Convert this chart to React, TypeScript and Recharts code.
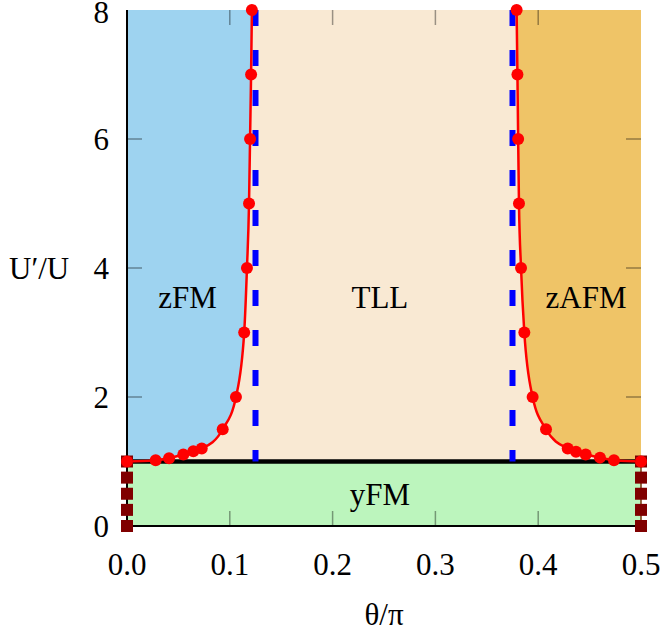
import React from "react";
import { ComposedChart, Area, Line, XAxis, YAxis, ReferenceDot } from "recharts";

const xTicks = [0, 0.1, 0.2, 0.3, 0.4, 0.5];
const yTicks = [0, 2, 4, 6, 8];

// zFM / TLL boundary (red circles)
const leftTheta = [0, 0.0279, 0.0409, 0.0548, 0.0645, 0.0727, 0.0931, 0.106, 0.114, 0.1167, 0.1187, 0.1197, 0.1207, 0.1215];
const leftU = [1, 1.02, 1.05, 1.11, 1.16, 1.2, 1.5, 2, 3, 4, 5, 6, 7, 8];

// TLL / zAFM boundary
const rightTheta = [0.379, 0.3798, 0.3805, 0.3813, 0.3833, 0.3865, 0.3946, 0.4076, 0.4287, 0.4368, 0.4462, 0.4601, 0.4737, 0.5];
const rightU = [8, 7, 6, 5, 4, 3, 2, 1.5, 1.2, 1.15, 1.11, 1.06, 1.02, 1];

// yFM edges (dark red squares)
const yfmTheta = [0, 0.5];
const yfmU = [0, 0.25, 0.5, 0.75, 1];

const transitionU = 1;
const tllEdges = [0.125, 0.375];
const thetaMax = 0.5;
const uMax = 8;

const regionNames = ["zFM", "TLL", "zAFM", "yFM"];
const regionTheta = [0.059, 0.246, 0.4465, 0.246];
const regionU = [3.55, 3.55, 3.55, 0.5];

const PLOT = { left: 127, right: 641, top: 10, bottom: 526 };
const TICK_LEN = 15;
const FONT = "'Liberation Serif', 'Times New Roman', serif";
const FS = 31;
const TICK_STROKE = "rgba(0,0,0,0.38)";

const leftCurve = leftTheta.map((x, i) => ({ x, y: leftU[i] }));
const rightCurve = rightTheta.map((x, i) => ({ x, y: rightU[i] }));
const zfmArea = leftTheta.map((x, i) => ({ x, range: [leftU[i], uMax] }));
const zafmArea = rightTheta.map((x, i) => ({ x, range: [rightU[i], uMax] }));
const tllArea = [0, thetaMax].map((x) => ({ x, range: [transitionU, uMax] }));
const yfmArea = [0, thetaMax].map((x) => ({ x, range: [0, transitionU] }));
const blackLine = [0, thetaMax].map((x) => ({ x, y: transitionU }));

function ThetaTick(props: any) {
  const { x, y, payload } = props;
  const v = Number(payload.value);
  const edge = v === 0 || v === thetaMax;
  return (
    <g>
      {!edge && (
        <>
          <line x1={x} x2={x} y1={PLOT.bottom} y2={PLOT.bottom - TICK_LEN} stroke={TICK_STROKE} strokeWidth={1.5} />
          <line x1={x} x2={x} y1={PLOT.top} y2={PLOT.top + TICK_LEN} stroke={TICK_STROKE} strokeWidth={1.5} />
        </>
      )}
      <text x={x} y={y} dy={49} textAnchor="middle" fill="#000" fontSize={FS} fontFamily={FONT}>
        {v.toFixed(1)}
      </text>
    </g>
  );
}

function UTick(props: any) {
  const { y, payload } = props;
  const v = Number(payload.value);
  const edge = v === 0 || v === uMax;
  // keep the top label inside the page
  const dy = v === uMax ? "0.42em" : "0.34em";
  return (
    <g>
      {!edge && (
        <>
          <line x1={PLOT.left} x2={PLOT.left + TICK_LEN} y1={y} y2={y} stroke={TICK_STROKE} strokeWidth={1.5} />
          <line x1={PLOT.right} x2={PLOT.right - TICK_LEN} y1={y} y2={y} stroke={TICK_STROKE} strokeWidth={1.5} />
        </>
      )}
      <text x={109} y={y} dy={dy} textAnchor="end" fill="#000" fontSize={FS} fontFamily={FONT}>
        {v}
      </text>
    </g>
  );
}

const squareDot = (p: any) => (
  <rect key={`sq-${p.index}`} x={p.cx - 6} y={p.cy - 6} width={12} height={12} fill="#800000" />
);

export default function App() {
  return (
    <div style={{ width: 664, height: 640 }}>
      <style>{"body{margin:0}"}</style>
      <ComposedChart
        width={664}
        height={640}
        margin={{ top: 10, right: 23, left: 0, bottom: 0 }}
        style={{ fontFamily: FONT }}
      >
        <XAxis
          dataKey="x"
          type="number"
          domain={[0, thetaMax]}
          ticks={xTicks}
          height={114}
          tickSize={0}
          tickMargin={0}
          tick={ThetaTick}
          axisLine={{ stroke: "#000", strokeWidth: 2 }}
          label={{ value: "θ/π", position: "insideBottom", offset: 15, fill: "#000", fontSize: FS, fontFamily: FONT }}
        />
        <XAxis
          xAxisId="top"
          orientation="top"
          type="number"
          domain={[0, thetaMax]}
          height={0}
          tick={false}
          tickLine={false}
          axisLine={{ stroke: "#000", strokeWidth: 1.5 }}
        />
        <YAxis
          type="number"
          domain={[0, uMax]}
          ticks={yTicks}
          width={127}
          tickSize={0}
          tickMargin={0}
          tick={UTick}
          axisLine={{ stroke: "#000", strokeWidth: 2 }}
          label={{ value: "U′/U", position: "insideLeft", offset: 9, fill: "#000", fontSize: FS, fontFamily: FONT }}
        />
        <YAxis
          yAxisId="right"
          orientation="right"
          type="number"
          domain={[0, uMax]}
          width={0}
          tick={false}
          tickLine={false}
          axisLine={{ stroke: "#000", strokeWidth: 1.5 }}
        />

        <Area data={tllArea} dataKey="range" type="linear" stroke="none" fill="#f9e9d3" fillOpacity={1} isAnimationActive={false} dot={false} activeDot={false} />
        <Area data={zfmArea} dataKey="range" type="monotone" stroke="none" fill="#9ed3f0" fillOpacity={1} isAnimationActive={false} dot={false} activeDot={false} />
        <Area data={zafmArea} dataKey="range" type="monotone" stroke="none" fill="#efc467" fillOpacity={1} isAnimationActive={false} dot={false} activeDot={false} />
        <Area data={yfmArea} dataKey="range" type="linear" stroke="none" fill="#bcf5bd" fillOpacity={1} isAnimationActive={false} dot={false} activeDot={false} />

        <Line data={blackLine} dataKey="y" type="linear" stroke="#000" strokeWidth={4.5} dot={false} activeDot={false} isAnimationActive={false} />
        {tllEdges.map((t) => (
          <Line
            key={`edge-${t}`}
            data={[{ x: t, y: uMax }, { x: t, y: transitionU }]}
            dataKey="y"
            type="linear"
            stroke="#0000ff"
            strokeWidth={6}
            strokeDasharray="16 24"
            dot={false}
            activeDot={false}
            isAnimationActive={false}
          />
        ))}
        {yfmTheta.map((t) => (
          <Line
            key={`yfm-${t}`}
            data={yfmU.map((u) => ({ x: t, y: u }))}
            dataKey="y"
            type="linear"
            stroke="#7a3a10"
            strokeWidth={1.5}
            dot={squareDot}
            activeDot={false}
            isAnimationActive={false}
          />
        ))}
        <Line data={leftCurve} dataKey="y" type="monotone" stroke="#ff0000" strokeWidth={2.5} dot={{ r: 6, fill: "#ff0000", stroke: "none" }} activeDot={false} isAnimationActive={false} />
        <Line data={rightCurve} dataKey="y" type="monotone" stroke="#ff0000" strokeWidth={2.5} dot={{ r: 6, fill: "#ff0000", stroke: "none" }} activeDot={false} isAnimationActive={false} />

        {regionNames.map((name, i) => (
          <ReferenceDot
            key={name}
            x={regionTheta[i]}
            y={regionU[i]}
            r={0}
            fill="none"
            stroke="none"
            label={{ value: name, position: "center", fill: "#000", fontSize: FS, fontFamily: FONT }}
          />
        ))}
      </ComposedChart>
    </div>
  );
}
